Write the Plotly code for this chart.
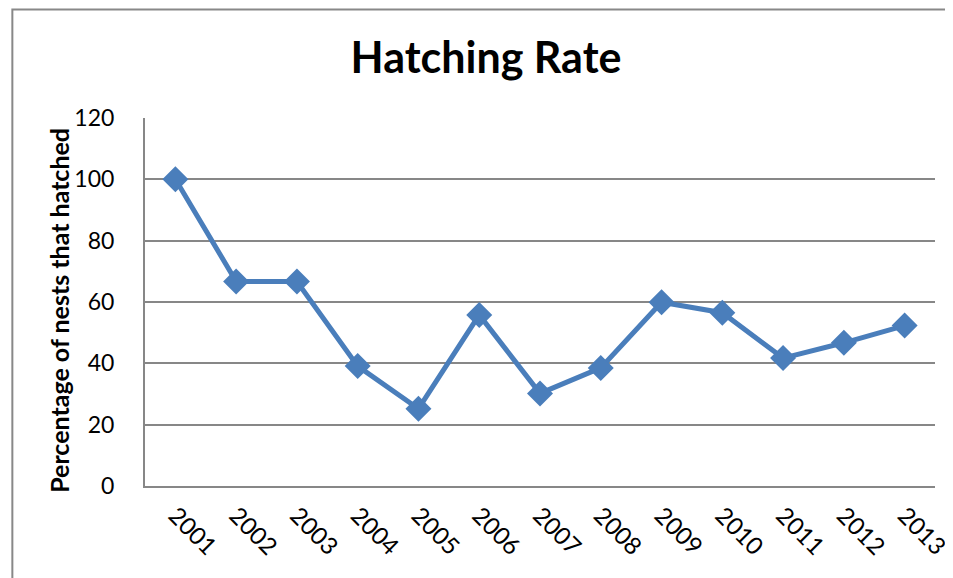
import plotly.graph_objects as go

years = ["2001", "2002", "2003", "2004", "2005", "2006", "2007",
         "2008", "2009", "2010", "2011", "2012", "2013"]
hatch_pct = [100, 66.7, 66.7, 39.1, 25.2, 55.8, 30.2, 38.5, 59.9, 56.5, 41.7, 46.7, 52.3]
y_ticks = [0, 20, 40, 60, 80, 100, 120]

W, H = 953, 578
OFF = 8  # page body margin offset
L, R, T, B = 145 - OFF, 952 - OFF, 118 - OFF, 486 - OFF

fig = go.Figure()
fig.add_trace(go.Scatter(
    x=years, y=hatch_pct, mode="lines+markers",
    line=dict(color="#4A7EBB", width=5),
    marker=dict(symbol="diamond", size=20, color="#4A7EBB"),
    cliponaxis=False, showlegend=False,
))

FONT = "Lato"
fig.update_layout(
    width=W, height=H,
    margin=dict(l=L, r=W - R, t=T, b=H - B),
    paper_bgcolor="white", plot_bgcolor="white",
    font=dict(family=FONT, color="black"),
    title=dict(text="<b>Hatching Rate</b>", x=(486 - OFF) / W, xanchor="center",
               y=1 - (58 - OFF) / H, yanchor="middle",
               font=dict(family=FONT, size=43, color="black")),
    xaxis=dict(type="category", range=[-0.5, 12.5], showgrid=False,
               showline=True, linecolor="#878787", linewidth=2,
               ticks="", tickangle=45, tickfont=dict(size=24, family=FONT),
               ticklabelstandoff=4),
    yaxis=dict(range=[0, 120], tickvals=y_ticks, showgrid=True,
               gridcolor="#878787", gridwidth=2, zeroline=False,
               showline=True, linecolor="#878787", linewidth=2,
               ticks="", tickfont=dict(size=23, family=FONT),
               ticklabelstandoff=24),
    annotations=[dict(text="<b>Percentage of nests that hatched</b>",
                      textangle=-90, x=(57 - OFF - L) / (R - L), y=(B - (310 - OFF)) / (B - T),
                      xref="paper", yref="paper", showarrow=False,
                      xanchor="center", yanchor="middle",
                      font=dict(family=FONT, size=25, color="black"))],
    shapes=[dict(type="rect", xref="paper", yref="paper",
                 x0=(1.5 - L) / (R - L), x1=1.2,
                 y0=-0.5, y1=1 + (T - 1.5) / (B - T),
                 line=dict(color="#888888", width=2), fillcolor="rgba(0,0,0,0)",
                 layer="below")],
)

fig.write_html("out.html")
